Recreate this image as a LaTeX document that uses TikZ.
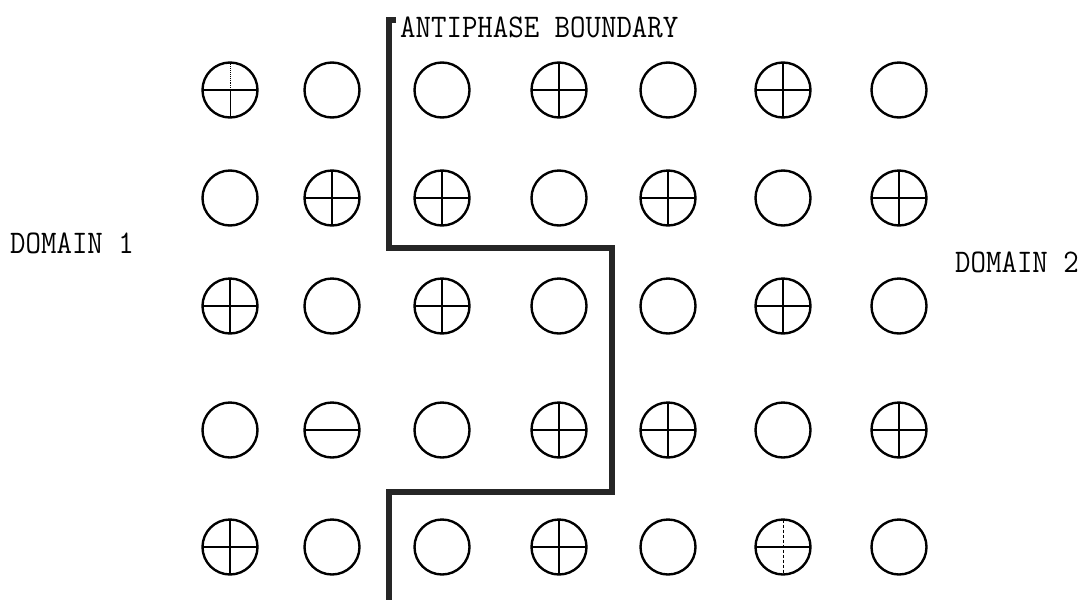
\documentclass[tikz,border=0pt]{standalone}
\usepackage{fontspec}
\begin{document}
\begin{tikzpicture}[x=1pt,y=-1pt,
  site/.style={circle,draw=black,line width=2.4pt,minimum size=55pt,inner sep=0pt},
  plus/.style={site,path picture={
     \draw[line width=1.5pt] (path picture bounding box.west) -- (path picture bounding box.east);
     \draw[line width=1.2pt] (path picture bounding box.north) -- (path picture bounding box.south);}},
  faintplus/.style={site,path picture={
     \draw[line width=2.2pt] (path picture bounding box.west) -- (path picture bounding box.east);
     \draw[line width=0.9pt,densely dotted] (path picture bounding box.north) -- (path picture bounding box.center);
     \draw[line width=1pt] (path picture bounding box.center) -- (path picture bounding box.south);}},
  dotplus/.style={site,path picture={
     \draw[line width=1.8pt] (path picture bounding box.west) -- (path picture bounding box.east);
     \draw[line width=1pt,densely dashed] (path picture bounding box.north) -- (path picture bounding box.south);}},
  minus/.style={site,path picture={
     \draw[line width=2pt] (path picture bounding box.west) -- (path picture bounding box.east);}},
  label/.style={font=\ttfamily\addfontfeatures{FakeBold=1.5}\fontsize{30}{34}\selectfont,inner sep=0pt,anchor=west,yscale=1.1},
  apb/.style={line width=5.5pt,black!85,line join=miter,line cap=butt}]
\useasboundingbox (0,0) rectangle (1083,600);
\foreach \s [count=\i] in {faintplus,site,site,plus,site,plus,site}{
  \pgfmathsetmacro{\xx}{{230,332,442,559,668,783,899}[\i-1]}
  \node[\s] (a\i) at (\xx,90) {};}
\foreach \s [count=\i] in {site,plus,plus,site,plus,site,plus}{
  \pgfmathsetmacro{\xx}{{230,332,442,559,668,783,899}[\i-1]}
  \node[\s] (b\i) at (\xx,198) {};}
\foreach \s [count=\i] in {plus,site,plus,site,site,plus,site}{
  \pgfmathsetmacro{\xx}{{230,332,442,559,668,783,899}[\i-1]}
  \node[\s] (c\i) at (\xx,306) {};}
\foreach \s [count=\i] in {site,minus,site,plus,plus,site,plus}{
  \pgfmathsetmacro{\xx}{{230,332,442,559,668,783,899}[\i-1]}
  \node[\s] (d\i) at (\xx,430) {};}
\foreach \s [count=\i] in {plus,site,site,plus,site,dotplus,site}{
  \pgfmathsetmacro{\xx}{{230,332,442,559,668,783,899}[\i-1]}
  \node[\s] (e\i) at (\xx,547) {};}
% antiphase boundary
\coordinate (p0) at (396,20);
\coordinate (p1) at (389,20);
\coordinate (p2) at (389,248);
\coordinate (p3) at (612,248);
\coordinate (p4) at (612,492);
\coordinate (p5) at (389,492);
\coordinate (p6) at (389,600);
\draw[apb] (p0) -- (p1) -- (p2) -- (p3) -- (p4) -- (p5) -- (p6);
\node[label] (title) at (400,27) {ANTIPHASE BOUNDARY};
\node[label] (dom1) at (10,243) {DOMAIN 1};
\node[label] (dom2) at (955,262) {DOMAIN 2};
\end{tikzpicture}
\end{document}
